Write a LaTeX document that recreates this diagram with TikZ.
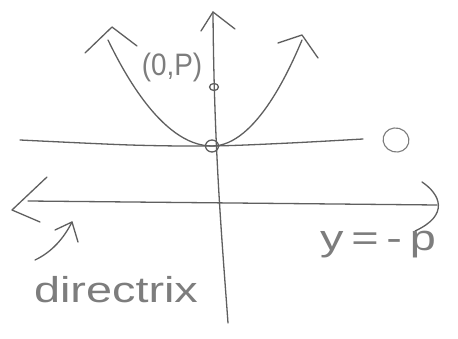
\documentclass[tikz,border=0pt]{standalone}
\usepackage{fontspec}
\setmainfont{Liberation Sans}
\definecolor{pencil}{RGB}{95,95,95}
\definecolor{lpencil}{RGB}{125,125,125}
\begin{document}
\begin{tikzpicture}[x=1pt,y=-1pt,
  pen/.style={draw=pencil,line width=1.3pt,line cap=round,line join=round},
  lpen/.style={draw=lpencil,line width=1.1pt,line cap=round,line join=round},
  hand/.style={text=lpencil,inner sep=0pt}]
\useasboundingbox[fill=white] (0,0) rectangle (458,339);
% axes
\coordinate (ytop) at (213,12);
\coordinate (ybot) at (228,323);
\draw[pen] (ytop) .. controls (214,150) and (222,240) .. (ybot);
\draw[pen] (201,31) -- (ytop) -- (235,29);
\coordinate (xl) at (20,140);
\coordinate (xr) at (363,139);
\draw[pen] plot[smooth] coordinates {(xl) (130,145) (212,146) (290,143) (xr)};
\draw[lpen,rotate around={-15:(396,140)}] (396,140) ellipse (13pt and 12pt);
% parabola
\coordinate (pl) at (108,40);
\coordinate (vtx) at (212,146);
\coordinate (pr) at (302,40);
\draw[pen] (pl) parabola bend (vtx) (pr);
\draw[pen] (85,53) -- (112,27) -- (137,46);
\draw[pen] (278,43) -- (302,35) -- (318,58);
% points
\draw[pen] (vtx) ellipse (6.5pt and 6pt);
\coordinate (focus) at (214,87);
\draw[pen] (focus) ellipse (4.5pt and 3.5pt);
\node[hand,font=\fontsize{31}{31}\selectfont,xscale=0.9] (lab) at (172,67) {(0,P)};
% directrix
\coordinate (dl) at (12,210);
\coordinate (ds) at (28,201);
\coordinate (dr) at (437,205);
\draw[pen] (ds) -- (dr);
\draw[pen] (47,177) -- (dl) -- (40,222);
\draw[pen] (422,182) .. controls (440,194) and (450,215) .. (415,231);
% label arrow
\coordinate (as) at (35,260);
\coordinate (ae) at (72,222);
\draw[pen] (as) .. controls (52,252) and (64,238) .. (ae);
\draw[pen] (55,230) -- (ae) -- (78,242);
\node[hand,font=\fontsize{36}{36}\selectfont,xscale=1.3] (dir) at (116,290) {directrix};
\node[hand,font=\fontsize{36}{36}\selectfont,xscale=1.3] (eq) at (378,245) {y\,=\,-\,p};
\end{tikzpicture}
\end{document}
